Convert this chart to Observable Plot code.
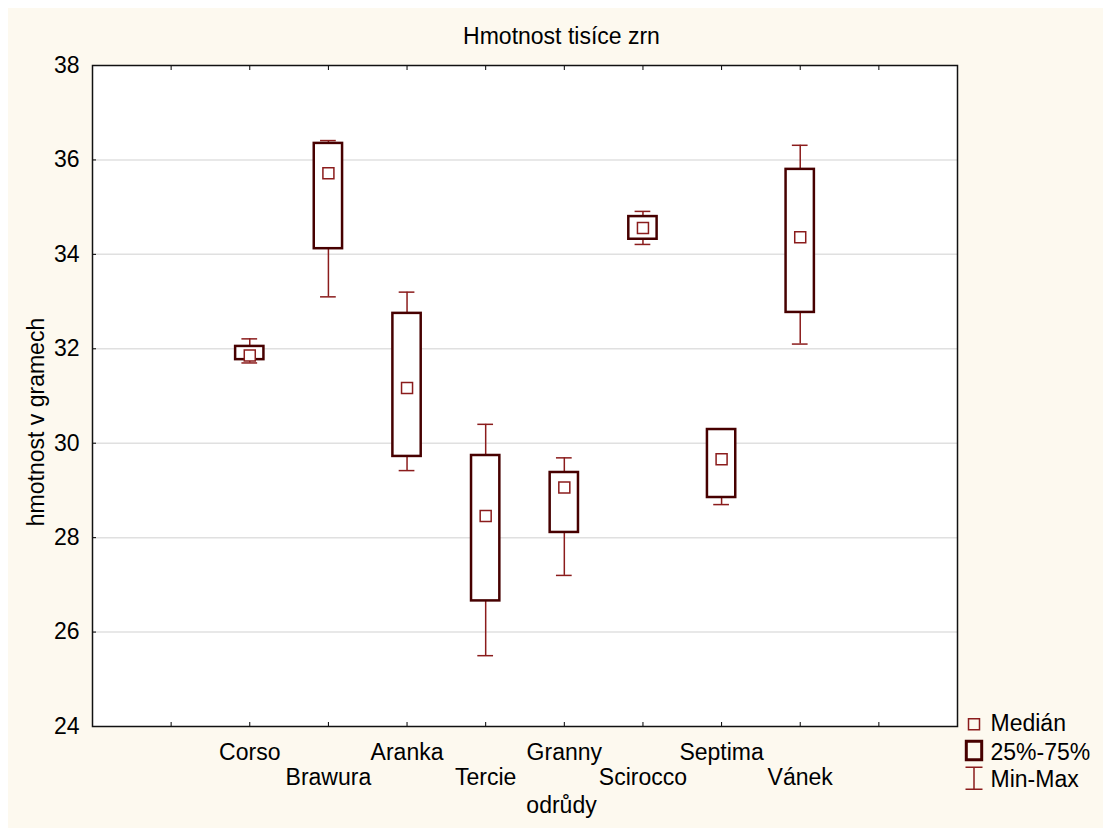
<!DOCTYPE html>
<html><head><meta charset="utf-8">
<script src="https://cdn.jsdelivr.net/npm/d3@7"></script>
<script src="https://cdn.jsdelivr.net/npm/@observablehq/plot@0.6"></script>
<style>
body{margin:0;background:#fff;}
#wrap{position:relative;width:1103px;height:828px;overflow:hidden;}
#bg{position:absolute;left:8px;top:8px;right:0;bottom:0;background:#fdf9ef;}
#chart{position:absolute;left:0;top:0;}
#chart svg{background:transparent;}
</style></head><body>
<div id="wrap"><div id="bg"></div><div id="chart"></div></div>
<script>
// Data
const categories = ["Corso","Brawura","Aranka","Tercie","Granny","Scirocco","Septima","Vánek"];
const minV = [31.70, 33.10, 29.42, 25.50, 27.20, 34.21, 28.70, 32.10];
const q1V  = [31.77, 34.12, 29.72, 26.66, 28.11, 34.32, 28.85, 32.77];
const medV = [31.86, 35.72, 31.17, 28.46, 29.06, 34.56, 29.66, 34.36];
const q3V  = [32.05, 36.35, 32.75, 29.74, 29.38, 34.80, 30.29, 35.80];
const maxV = [32.21, 36.41, 33.20, 30.40, 29.69, 34.91, 30.30, 36.31];
const yTicks = [24, 26, 28, 30, 32, 34, 36, 38];
const gridTicks = [26, 28, 30, 32, 34, 36];
const slotTicks = [1, 2, 3, 4, 5, 6, 7, 8, 9, 10];
const legendLabels = ["Medián", "25%-75%", "Min-Max"];
const titleText = "Hmotnost tisíce zrn";
const xLabel = "odrůdy";
const yLabel = "hmotnost v gramech";

const rows = categories.map((c, i) => ({cat: c, pos: i + 2, idx: i, min: minV[i], q1: q1V[i], med: medV[i], q3: q3V[i], max: maxV[i]}));

const FONT = "Arial, 'Liberation Sans', sans-serif";
const FS = 23;
const whiskerColor = "#8b1c1c";
const boxColor = "#470000";

const medSym = {draw(ctx){ ctx.moveTo(-5.5,-5.5); ctx.lineTo(5.5,-5.5); ctx.lineTo(5.5,5.5); ctx.lineTo(-5.5,5.5); ctx.closePath(); }};
const boxSym = {draw(ctx){ ctx.moveTo(-7.7,-9.2); ctx.lineTo(7.7,-9.2); ctx.lineTo(7.7,9.2); ctx.lineTo(-7.7,9.2); ctx.closePath(); }};
const capSym = {draw(ctx){ ctx.moveTo(-8.5,-11); ctx.lineTo(8.5,-11); ctx.moveTo(0,-11); ctx.lineTo(0,11); ctx.moveTo(-8.5,11); ctx.lineTo(8.5,11); }};

const T = {fontSize: FS, lineAnchor: "middle"};

const plot = Plot.plot({
  width: 1103, height: 828,
  marginLeft: 92, marginRight: 146, marginTop: 65, marginBottom: 102,
  style: {fontFamily: FONT, fontSize: FS + "px", background: "transparent", color: "#000"},
  x: {domain: [0, 11], axis: null},
  y: {domain: [24, 38], axis: null},
  marks: [
    Plot.frame({fill: "white"}),
    Plot.ruleY(gridTicks, {stroke: "#e0e0e0", strokeWidth: 1.5}),
    Plot.ruleX(rows, {x: "pos", y1: "min", y2: "max", stroke: whiskerColor, strokeWidth: 1.5}),
    Plot.ruleY(rows, {y: "min", x1: d => d.pos - 0.1, x2: d => d.pos + 0.1, stroke: whiskerColor, strokeWidth: 1.5}),
    Plot.ruleY(rows, {y: "max", x1: d => d.pos - 0.1, x2: d => d.pos + 0.1, stroke: whiskerColor, strokeWidth: 1.5}),
    Plot.rect(rows, {x1: d => d.pos - 0.18, x2: d => d.pos + 0.18, y1: "q1", y2: "q3", fill: "white", stroke: boxColor, strokeWidth: 2.5}),
    Plot.dot(rows, {x: "pos", y: "med", symbol: medSym, stroke: whiskerColor, fill: "white", strokeWidth: 1.5}),
    Plot.axisY({ticks: yTicks, anchor: "left", tickSize: -4, tickPadding: 17, fontSize: FS, label: null, tickFormat: d => String(d)}),
    Plot.axisX({ticks: slotTicks, anchor: "bottom", tickSize: -4, tickFormat: () => "", label: null}),
    Plot.axisX({ticks: slotTicks, anchor: "top", tickSize: -4, tickFormat: () => "", label: null}),
    Plot.frame({stroke: "#111", strokeWidth: 1.5}),
    Plot.text(rows.filter(d => d.idx % 2 === 0), {...T, x: "pos", text: "cat", frameAnchor: "bottom", dy: 26}),
    Plot.text(rows.filter(d => d.idx % 2 === 1), {...T, x: "pos", text: "cat", frameAnchor: "bottom", dy: 51}),
    Plot.text([titleText], {...T, text: d => d, frameAnchor: "top", textAnchor: "middle", dx: 36.5, dy: -29}),
    Plot.text([xLabel], {...T, text: d => d, frameAnchor: "bottom", textAnchor: "middle", dx: 36.5, dy: 79}),
    Plot.text([yLabel], {...T, text: d => d, frameAnchor: "left", textAnchor: "middle", rotate: -90, dx: -56, dy: 26}),
    // Legend
    Plot.dot([0], {frameAnchor: "bottom-right", dx: 16.5, dy: -2.3, symbol: medSym, stroke: whiskerColor, fill: "none", strokeWidth: 1.5}),
    Plot.dot([0], {frameAnchor: "bottom-right", dx: 16.5, dy: 24, symbol: boxSym, stroke: boxColor, fill: "none", strokeWidth: 3}),
    Plot.dot([0], {frameAnchor: "bottom-right", dx: 16.5, dy: 51.7, symbol: capSym, stroke: whiskerColor, fill: "none", strokeWidth: 1.5}),
    Plot.text([legendLabels[0]], {...T, text: d => d, frameAnchor: "bottom-right", dx: 33, dy: -2.5, textAnchor: "start"}),
    Plot.text([legendLabels[1]], {...T, text: d => d, frameAnchor: "bottom-right", dx: 33, dy: 26, textAnchor: "start"}),
    Plot.text([legendLabels[2]], {...T, text: d => d, frameAnchor: "bottom-right", dx: 33, dy: 53, textAnchor: "start"})
  ]
});
document.getElementById("chart").appendChild(plot);
</script>
</body></html>
